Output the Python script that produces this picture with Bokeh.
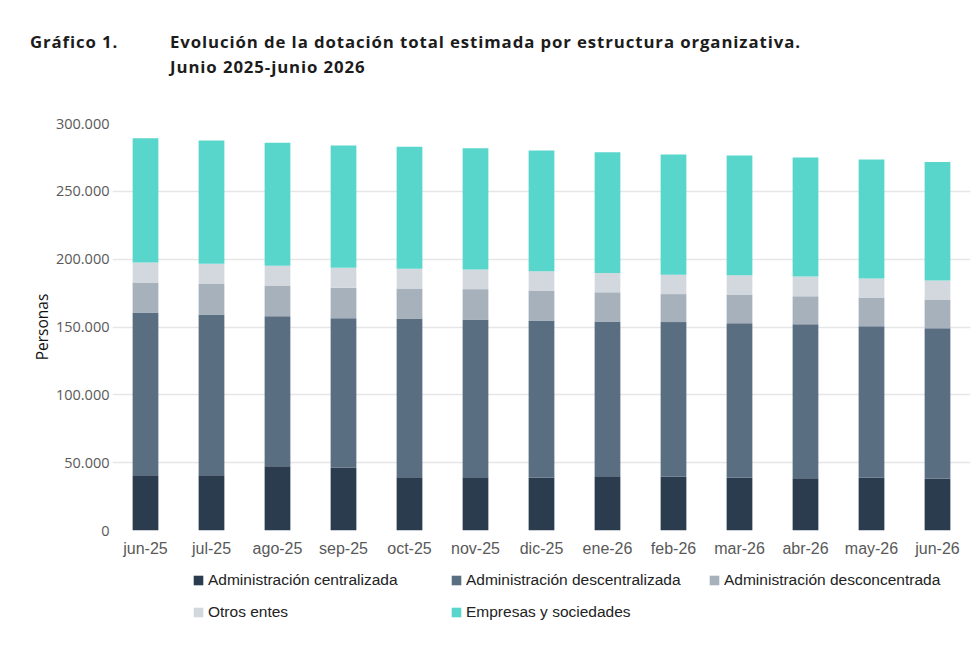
from bokeh.plotting import figure
from bokeh.models import (FactorRange, Range1d, FixedTicker, CustomJSTickFormatter,
                          Legend, LegendItem, Div)
from bokeh.layouts import column
from bokeh.embed import file_html
from bokeh.resources import INLINE

months = ["jun-25", "jul-25", "ago-25", "sep-25", "oct-25", "nov-25", "dic-25",
          "ene-26", "feb-26", "mar-26", "abr-26", "may-26", "jun-26"]
centralizada = [40800, 40800, 47400, 46400, 39300, 39300, 38800, 40000, 39600, 38800, 38600, 38800, 38100]
descentralizada = [119900, 118400, 110600, 110100, 117000, 116200, 116000, 114000, 114000, 114000, 113500, 111800, 111000]
desconcentrada = [22100, 22850, 22600, 22400, 22100, 22400, 22100, 21600, 20650, 21150, 20650, 21100, 21100]
otros = [14700, 14500, 14500, 14700, 14500, 14500, 14250, 14250, 14250, 14250, 14500, 14000, 14000]
empresas = [91700, 90900, 90700, 90200, 89900, 89400, 88950, 89000, 88700, 88200, 87700, 87700, 87500]

series = ["Administración centralizada", "Administración descentralizada",
          "Administración desconcentrada", "Otros entes", "Empresas y sociedades"]
colors = ["#2c3c4f", "#5a6e82", "#a6b1bc", "#d3d8de", "#58d6cc"]
y_ticks = [0, 50000, 100000, 150000, 200000, 250000, 300000]
title_num = "Gráfico 1."
title_lines = ["Evolución de la dotación total estimada por estructura organizativa.",
               "Junio 2025-junio 2026"]

keys = ["c", "d", "dc", "o", "e"]
data = dict(months=months, c=centralizada, d=descentralizada, dc=desconcentrada, o=otros, e=empresas)

title_html = (
    '<div style="position:relative;width:972px;height:100px;font-family:\'Open Sans\';'
    'font-weight:bold;font-size:16.8px;line-height:25px;letter-spacing:0.9px;color:#1c1c1c">'
    f'<span style="position:absolute;left:30px;top:29px">{title_num}</span>'
    f'<span style="position:absolute;left:170px;top:29px;white-space:nowrap">'
    f'{title_lines[0]}<br>{title_lines[1]}</span></div>'
)
header = Div(text=title_html, width=972, height=100, margin=0)

p = figure(x_range=FactorRange(*months, range_padding=0), y_range=Range1d(0, 300000),
           width=972, height=465, output_backend="svg", toolbar_location=None,
           min_border_left=112, min_border_right=2, min_border_top=23, min_border_bottom=35,
           margin=0)
p.outline_line_color = None

rs = p.vbar_stack(keys, x="months", width=0.39, color=colors, line_color=None, source=data)

p.xgrid.grid_line_color = None
p.ygrid.grid_line_color = "#e6e6e6"
p.ygrid.grid_line_width = 1.5

p.yaxis.ticker = FixedTicker(ticks=y_ticks)
p.yaxis.formatter = CustomJSTickFormatter(code="""
return Math.round(tick).toString().replace(/\\B(?=(\\d{3})+(?!\\d))/g, '.');
""")
p.yaxis.axis_line_color = None
p.yaxis.major_tick_line_color = None
p.yaxis.minor_tick_line_color = None
p.yaxis.major_tick_out = 0
p.yaxis.major_tick_in = 0
p.yaxis.major_label_text_font = "Open Sans"
p.yaxis.major_label_text_font_size = "14.5px"
p.yaxis.major_label_text_color = "#595959"
p.yaxis.major_label_standoff = 3
p.yaxis.axis_label = "Personas"
p.yaxis.axis_label_text_font = "Open Sans"
p.yaxis.axis_label_text_font_style = "normal"
p.yaxis.axis_label_text_font_size = "15.5px"
p.yaxis.axis_label_text_color = "#111111"
p.yaxis.axis_label_standoff = 0

p.xaxis.axis_line_color = None
p.xaxis.major_tick_line_color = None
p.xaxis.minor_tick_line_color = None
p.xaxis.major_tick_out = 0
p.xaxis.major_tick_in = 0
p.xaxis.major_label_text_font = "Liberation Sans"
p.xaxis.major_label_text_font_size = "16px"
p.xaxis.major_label_text_color = "#595959"
p.xaxis.major_label_standoff = 9

# legend panel: a small figure whose copy of the stacks has zero width and lies
# outside its view, so only the legend swatches and labels are seen
p2 = figure(x_range=p.x_range, y_range=Range1d(-200000, -100000), width=972, height=75,
            output_backend="svg", toolbar_location=None, x_axis_type=None, y_axis_type=None,
            min_border=0, margin=0)
p2.outline_line_color = None
p2.grid.visible = False
swatches = p2.vbar_stack(keys, x="months", width=0, color=colors, line_color=None, source=data)

legend = Legend(items=[LegendItem(label=s, renderers=[r]) for s, r in zip(series, swatches)],
                orientation="horizontal", ncols=3, location=(80, 18))
legend.glyph_width = 12
legend.glyph_height = 12
legend.label_width = 230
legend.label_height = 20
legend.label_standoff = 4
legend.spacing = 12
legend.padding = 0
legend.margin = 0
legend.border_line_color = None
legend.background_fill_alpha = 0
legend.label_text_font = "Liberation Sans"
legend.label_text_font_size = "15.5px"
legend.label_text_color = "#222222"
p2.add_layout(legend)

layout = column(header, p, p2, spacing=0, margin=0)
open("out.html", "w").write(file_html(layout, INLINE))
